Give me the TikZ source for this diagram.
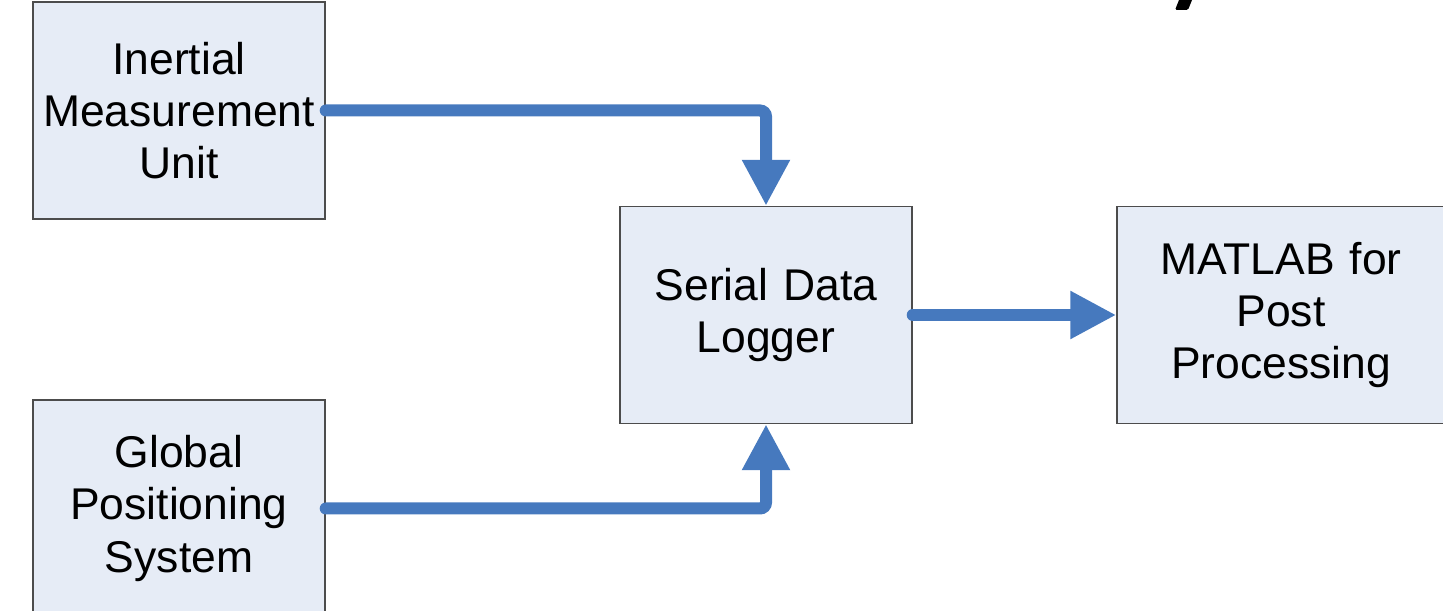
\documentclass[tikz,border=0pt]{standalone}
\usepackage{fontspec}
\setmainfont{Liberation Sans}
\usetikzlibrary{shapes,arrows.meta,positioning}
\definecolor{boxfill}{RGB}{230,236,246}
\definecolor{flowblue}{RGB}{70,121,190}
\tikzstyle{block} = [rectangle, draw=black!70, line width=0.8pt, fill=boxfill, text centered, minimum
height=4.34cm, minimum width=5.84cm, text width=5.6cm, font=\fontsize{25.3}{29.6}\selectfont]
\tikzstyle{line} = [draw=flowblue, line width=0.24cm, line cap=round, rounded corners=0.12cm,
-{Triangle[width=0.9cm,length=0.92cm]}]

\begin{document}
\begin{tikzpicture}[node distance=2cm, auto]
			\useasboundingbox (0,0) rectangle (28.86,-12.22);
			\node [block] (imu) at (3.58,-2.21) {Inertial\\Measurement\\Unit};
			\node [block, below of=imu, node distance=7.96cm] (gps) {Global\\Positioning\\System};
			\node [block] (logger) at (15.32,-6.3) {Serial Data\\Logger};
			\node [block, right of=logger, node distance=10.3cm, minimum width=6.56cm] (matlab) {MATLAB for\\Post\\Processing};
			\path [line] (imu.east) -| (logger.north);
			\path [line] (gps.east) -| (logger.south);
			\path [line] (logger.east) -- (matlab.west);
			% cut-off stroke of a heading letter at the top edge
			\fill [rounded corners=0.03cm] (23.62,0.1) -- (23.88,0.1) -- (23.76,-0.2) -- (23.5,-0.2) -- cycle;
		\end{tikzpicture}
\end{document}
